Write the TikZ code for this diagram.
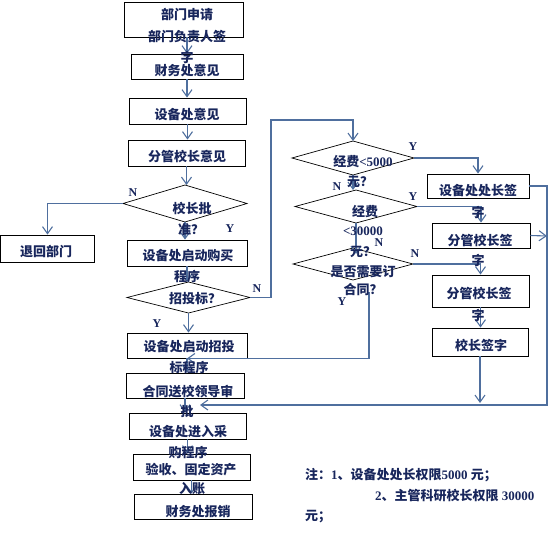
\documentclass[tikz,border=0pt]{standalone}
\usepackage{fontspec}
\setmainfont{Liberation Serif}
\newfontfamily\cjk{Noto Sans CJK SC}
\usetikzlibrary{arrows.meta,shapes.geometric}
\definecolor{lineblue}{RGB}{79,111,158}
\definecolor{txt}{RGB}{24,38,92}
\begin{document}
\begin{tikzpicture}[x=1pt,y=-1pt,
  box/.style={draw=black,line width=0.9pt,inner sep=0pt},
  dia/.style={draw=black,line width=0.7pt,diamond,inner sep=0pt,outer sep=0pt},
  arr/.style={draw=lineblue,line width=1.1pt,-{Straight Barb[length=7pt,width=10pt]}},
  ln/.style={draw=lineblue,line width=1.1pt},
  t/.style={text=txt,font=\cjk\bfseries\fontsize{13}{15}\selectfont,inner sep=0pt},
  yn/.style={text=txt,font=\bfseries\fontsize{12}{14}\selectfont,inner sep=0pt},
  nt/.style={text=txt,font=\bfseries\fontsize{13}{15}\selectfont,inner sep=0pt,anchor=west}]
\useasboundingbox (0,0) rectangle (555,533);

% ---------- left column boxes ----------
\node[box,minimum width=119pt,minimum height=35pt] (b1) at (183.5,19.5) {};
\node[box,minimum width=112pt,minimum height=25pt] (b2) at (187,66.5) {};
\node[box,minimum width=117pt,minimum height=26pt] (b3) at (187.5,111) {};
\node[box,minimum width=117pt,minimum height=26pt] (b4) at (186.5,153) {};
\node[dia,minimum width=124pt,minimum height=37pt] (d1) at (185,203.5) {};
\node[box,minimum width=94pt,minimum height=27pt] (back) at (47.5,248.5) {};
\node[box,minimum width=120pt,minimum height=26pt] (buy) at (187,253) {};
\node[dia,minimum width=123pt,minimum height=31pt] (d2) at (188.5,297.5) {};
\node[box,minimum width=120pt,minimum height=25pt] (zt) at (187,345.5) {};
\node[box,minimum width=118pt,minimum height=25pt] (ht) at (185,385.5) {};
\node[box,minimum width=117pt,minimum height=26pt] (cg) at (187.5,426) {};
\node[box,minimum width=117pt,minimum height=26pt] (ys) at (191.5,467) {};
\node[box,minimum width=118pt,minimum height=25pt] (bx) at (193,506.5) {};

% ---------- right column ----------
\node[dia,minimum width=122pt,minimum height=34pt] (dA) at (353,158) {};
\node[dia,minimum width=122pt,minimum height=33pt] (dB) at (356,206.5) {};
\node[dia,minimum width=120pt,minimum height=32pt] (dC) at (353,264) {};
\node[box,minimum width=102pt,minimum height=24pt] (cz) at (478,186) {};
\node[box,minimum width=98pt,minimum height=25pt] (f1) at (481,235.5) {};
\node[box,minimum width=97pt,minimum height=32pt] (f2) at (480.5,291) {};
\node[box,minimum width=96pt,minimum height=28pt] (xz) at (480,342) {};

\coordinate (c1) at (271,120);
\coordinate (c2) at (547,405);
\coordinate (c3) at (200,405);
\coordinate (c4) at (547,236);
\coordinate (c5) at (369,292);
\coordinate (c6) at (480,403);

% ---------- connectors ----------
\draw[arr] (b2.north |- b1.south) -- (b2.north);
\draw[arr] (b2.south) -- (b2.south |- b3.north);
\draw[arr] (b3.south) -- (b3.south |- b4.north);
\draw[arr] (b4.south) -- (b4.south |- d1.north);
\draw[arr] (d1.south) -- (d1.south |- buy.north);
\draw[arr] (d1.west) -| (back.north);
\draw[arr] (buy.south) -- (buy.south |- d2.north);
\draw[arr] (d2.south) -- (d2.south |- zt.north);
\draw[arr] (zt.south) -- (zt.south |- ht.north);
\draw[arr] (ht.south) -- (ht.south |- cg.north);
\draw[arr] (cg.south) -- (cg.south |- ys.north);
\draw[arr] (ys.south) -- (ys.south |- bx.north);
\draw[arr] (d2.east) -| (c1) -| (dA.north);
\draw[arr] (dA.east) -| (cz.north);
\draw[arr] (dB.east) -| (f1.north);
\draw[arr] (dC.east) -| (f2.north);
\draw[arr] (dA.south) -- (dA.south |- dB.north);
\draw[arr] (dB.south) -- ([yshift=-6pt]dB.south |- dC.north);
\draw[arr] (f2.south) -- (f2.south |- xz.north);
\draw[arr] (xz.south) -- (c6);
\draw[arr] (cz.east) -| (c2) -- (c3);
\draw[arr] (f1.east) -- (c4);
\draw[arr] (c5) |- (zt.south);

% ---------- texts ----------
\node[t] (t1a) at (187,15) {部门申请};
\node[t] (t1b) at (187,37) {部门负责人签};
\node[t] (t1c) at (187,57) {字};
\node[t] (t2) at (187,71) {财务处意见};
\node[t] (t3) at (187,115) {设备处意见};
\node[t] (t4) at (187,156) {分管校长意见};
\node[t] (t5a) at (192,208) {校长批};
\node[t] (t5b) at (191,230) {准？};
\node[t] (t6) at (46,252) {退回部门};
\node[t] (t7a) at (188,256) {设备处启动购买};
\node[t] (t7b) at (187,277) {程序};
\node[t] (t8) at (195,299) {招投标？};
\node[t] (t9a) at (189,347) {设备处启动招投};
\node[t] (t9b) at (189,368) {标程序};
\node[t] (t10a) at (188,392) {合同送校领导审};
\node[t] (t10b) at (187,412) {批};
\node[t] (t11a) at (188,432) {设备处进入采};
\node[t] (t11b) at (188,453) {购程序};
\node[t] (t12a) at (191,470) {验收、固定资产};
\node[t] (t12b) at (192,489) {入账};
\node[t] (t13) at (198,512) {财务处报销};

\node[t] (tA1) at (363,162) {经费\textrm{<5000}};
\node[t] (tA2) at (360,182) {元？};
\node[t] (tB1) at (365,212) {经费};
\node[t] (tB2) at (363,231) {\textrm{<30000}};
\node[t] (tB3) at (363,252) {元？};
\node[t] (tC1) at (363,272) {是否需要订};
\node[t] (tC2) at (363,290) {合同？};
\node[t] (tcz) at (478,191) {设备处处长签};
\node[t] (tcz2) at (478,212) {字};
\node[t] (tf1) at (480,240) {分管校长签};
\node[t] (tf1b) at (478,260) {字};
\node[t] (tf2) at (479,293) {分管校长签};
\node[t] (tf2b) at (478,315) {字};
\node[t] (txz) at (481,345) {校长签字};

% ---------- Y / N labels ----------
\node[yn] (lN1) at (133,193) {N};
\node[yn] (lY1) at (230,229) {Y};
\node[yn] (lN2) at (257,289) {N};
\node[yn] (lY2) at (157,324) {Y};
\node[yn] (lYA) at (413,147) {Y};
\node[yn] (lNA) at (337,187) {N};
\node[yn] (lYB) at (413,197) {Y};
\node[yn] (lNB) at (379,243) {N};
\node[yn] (lNC) at (415,254) {N};
\node[yn] (lYC) at (342,302) {Y};

% ---------- note ----------
\node[nt] (n1) at (305,475) {{\cjk 注：}1{\cjk 、设备处处长权限}5000 {\cjk 元；}};
\node[nt] (n2) at (375,496) {2{\cjk 、主管科研校长权限} 30000};
\node[nt] (n3) at (305,517) {{\cjk 元；}};
\end{tikzpicture}
\end{document}
